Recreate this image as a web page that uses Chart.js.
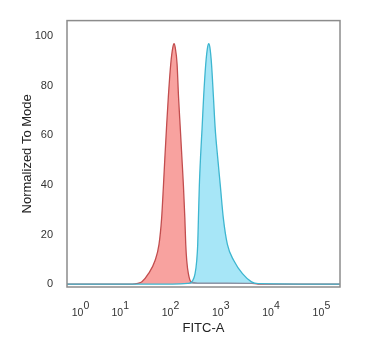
<!DOCTYPE html>
<html>
<head>
<meta charset="utf-8">
<script src="https://cdn.jsdelivr.net/npm/chart.js@4.4.0/dist/chart.umd.min.js"></script>
<style>
  html, body { margin: 0; padding: 0; background: #fff; }
</style>
</head>
<body>
<canvas id="chart1" width="389" height="351"></canvas>
<script>
// x values are in display decades (FlowJo-like axis), y is % of mode
const redX  = [0, 1.30, 1.41, 1.49, 1.62, 1.75, 1.83, 1.882, 1.918, 1.948, 1.978, 2.016, 2.064, 2.105, 2.129, 2.152, 2.189, 2.218, 2.254, 2.284, 2.316, 2.344, 2.362, 2.382, 2.414, 2.467, 2.60, 3.20, 3.68, 3.80, 5.43];
const redY  = [0, 0, 0.3, 0.9, 4.2, 9.4, 16, 26.5, 39.6, 51.5, 62.6, 75.7, 88.9, 95.5, 97, 95.5, 88.9, 75.7, 62.6, 51.5, 39.6, 26.5, 16, 9.4, 4.2, 0.9, 0.4, 0.4, 0.3, 0, 0];
const blueX = [0, 2.10, 2.40, 2.481, 2.547, 2.58, 2.60, 2.614, 2.632, 2.658, 2.686, 2.718, 2.76, 2.796, 2.819, 2.842, 2.874, 2.912, 2.948, 2.995, 3.05, 3.11, 3.19, 3.32, 3.49, 3.67, 3.80, 5.43];
const blueY = [0, 0, 0.3, 0.9, 4.2, 9.4, 16, 26.5, 39.6, 52, 62.6, 75.7, 88.9, 95.5, 97, 95.5, 88.9, 75.7, 62.6, 51.5, 39.6, 26.5, 16, 9.4, 4.2, 0.9, 0.2, 0];
const xTickPos = [0.21, 1, 2, 3, 4, 5];
const xTickExp = ['0', '1', '2', '3', '4', '5'];
const yTicks = [0, 20, 40, 60, 80, 100];

const fontFamily = '"Liberation Sans", Arial, Helvetica, sans-serif';

function toPoints(xs, ys) {
  let pts = [];
  for (let i = 0; i < xs.length; i++) {
    pts.push({ x: xs[i], y: ys[i] });
  }
  return pts;
}

// frame around the plot + "10^n" labels under the x axis
const frameAndTicks = {
  id: 'frameAndTicks',
  afterDraw(chart) {
    const ctx = chart.ctx;
    const a = chart.chartArea;
    const xScale = chart.scales.x;
    ctx.save();
    ctx.strokeStyle = '#8c8c8c';
    ctx.lineWidth = 1.5;
    ctx.strokeRect(a.left, a.top, a.right - a.left, a.bottom - a.top);
    ctx.fillStyle = '#333';
    ctx.textBaseline = 'alphabetic';
    for (let i = 0; i < xTickPos.length; i++) {
      let px = xScale.getPixelForValue(xTickPos[i]);
      ctx.font = '10.5px ' + fontFamily;
      ctx.textAlign = 'center';
      ctx.fillText('10', px, 316);
      ctx.textAlign = 'left';
      ctx.fillText(xTickExp[i], px + 6, 309);
    }
    ctx.restore();
  }
};

var ctx = document.getElementById('chart1');
var myChart = new Chart(ctx, {
  type: 'line',
  data: {
    datasets: [
      {
        label: 'stained',
        data: toPoints(blueX, blueY),
        borderColor: '#3db6d0',
        backgroundColor: 'rgba(80, 205, 240, 0.5)',
        borderWidth: 1.3,
        fill: 'origin',
        pointRadius: 0,
        cubicInterpolationMode: 'monotone'
      },
      {
        label: 'control',
        data: toPoints(redX, redY),
        borderColor: '#c24d4e',
        backgroundColor: 'rgba(244, 100, 95, 0.6)',
        borderWidth: 1.3,
        fill: 'origin',
        pointRadius: 0,
        cubicInterpolationMode: 'monotone'
      }
    ]
  },
  options: {
    responsive: false,
    animation: false,
    layout: { padding: { top: 14, right: 49, left: 0, bottom: 0 } },
    plugins: {
      legend: { display: false },
      tooltip: { enabled: false }
    },
    scales: {
      x: {
        type: 'linear',
        min: 0,
        max: 5.43,
        grid: { display: false, drawTicks: false },
        border: { display: false },
        ticks: { display: false },
        afterFit: function (scale) { scale.height = 64; },
        title: {
          display: true,
          text: 'FITC-A',
          color: '#222',
          font: { family: fontFamily, size: 13 },
          padding: { top: 0, bottom: 15 }
        }
      },
      y: {
        type: 'linear',
        min: -1.18,
        max: 106.3,
        grid: { display: false, drawTicks: false },
        border: { display: false },
        afterBuildTicks: function (scale) {
          scale.ticks = yTicks.map(v => ({ value: v }));
        },
        afterFit: function (scale) { scale.width = 67; },
        ticks: {
          color: '#333',
          padding: 14,
          font: { family: fontFamily, size: 11 }
        },
        title: {
          display: true,
          text: 'Normalized To Mode',
          color: '#222',
          font: { family: fontFamily, size: 13 },
          padding: { top: 20, bottom: 0 }
        }
      }
    }
  },
  plugins: [frameAndTicks]
});
</script>
</body>
</html>
